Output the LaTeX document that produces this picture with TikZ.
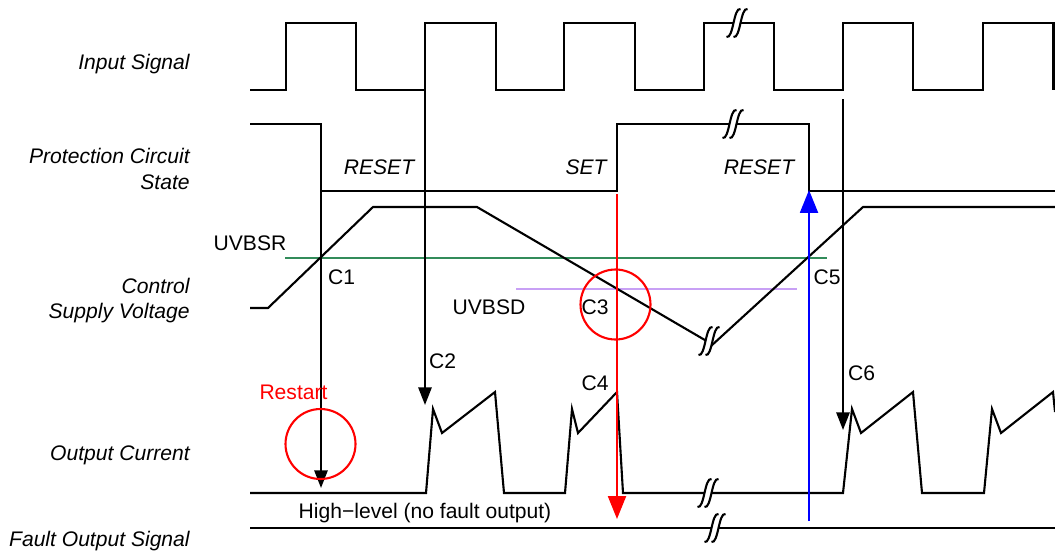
\documentclass[tikz,border=0pt]{standalone}
\usepackage{fontspec}
\setmainfont{Liberation Sans}
\usetikzlibrary{arrows.meta}
\definecolor{uvgreen}{RGB}{50,140,90}
\definecolor{uvpurple}{RGB}{200,160,245}
\begin{document}
\begin{tikzpicture}[x=0.02cm,y=-0.02cm,
  sig/.style={line width=1.2pt, line join=miter},
  base/.style={font=\fontsize{12}{14.7}\selectfont, inner sep=0},
  lbl/.style={base, font=\fontsize{12}{14.7}\selectfont\itshape, anchor=east, align=right},
  ilbl/.style={base, font=\fontsize{12}{14.7}\selectfont\itshape},
  blackarrow/.style={line width=1.2pt, -{Triangle[width=7.5pt,length=10pt]}},
  bigarrow/.style={line width=1.2pt, -{Triangle[width=10.2pt,length=13pt]}},
  brk/.pic={
    \fill[white] (10.5,-14) .. controls (3.5,-16) and (3.5,16) .. (-3.5,14)
       -- (-10.5,14) .. controls (-3.5,16) and (-3.5,-16) .. (3.5,-14) -- cycle;
    \draw[line width=1.2pt] (10.5,-14) .. controls (3.5,-16) and (3.5,16) .. (-3.5,14);
    \draw[line width=1.2pt] (3.5,-14) .. controls (-3.5,-16) and (-3.5,16) .. (-10.5,14);
  }]
\useasboundingbox (0,0) rectangle (1055,552);

% left labels
\node[lbl] (lin) at (190,64) {Input Signal};
\node[lbl] (lpc) at (190,169) {Protection Circuit\\State};
\node[lbl] (lcs) at (190,300.5) {Control\\Supply Voltage};
\node[lbl] (loc) at (190,455) {Output Current};
\node[lbl] (lfo) at (190,541) {Fault Output Signal};

% threshold lines
\draw[uvgreen, line width=1.3pt] (285,258) -- (827,258);
\draw[uvpurple, line width=1.3pt] (516,289) -- (797,289);

% input signal
\draw[sig] (250,90) -- (286,90) -- (286,23) -- (356,23) -- (356,90) -- (425,90) -- (425,23)
  -- (496,23) -- (496,90) -- (564,90) -- (564,23) -- (635,23) -- (635,90) -- (704,90)
  -- (704,23) -- (774,23) -- (774,90) -- (843,90) -- (843,23) -- (913,23) -- (913,90)
  -- (983,90) -- (983,23) -- (1053.5,23) -- (1053.5,90);
\pic at (737,23) {brk};

% protection circuit state
\draw[sig] (250,124) -- (321,124) -- (321,191) -- (617,191) -- (617,124) -- (809,124)
  -- (809,191) -- (1055,191);
\pic at (733,124) {brk};

% control supply voltage
\draw[sig] (250,308) -- (268,308) -- (373,207) -- (477,207) -- (710,343);
\draw[sig] (711,346) -- (863,207) -- (1055,207);
\pic at (709,341) {brk};

% output current
\draw[sig] (250,493) -- (426,493) -- (433,409) -- (442,433) -- (495,392) -- (504,493)
  -- (565,493) -- (572,409) -- (578,433) -- (617,392) -- (623,493) -- (843,493)
  -- (852,409) -- (861,433) -- (913,392) -- (922,493) -- (984,493) -- (992,409)
  -- (1001,433) -- (1053,392) -- (1055,412);
\pic at (708,493) {brk};

% fault output
\draw[sig] (250,528) -- (1055,528);
\pic at (715,528) {brk};

% arrows
\coordinate (c1s) at (321,191);
\coordinate (c1e) at (321,488);
\coordinate (c2s) at (425,90);
\coordinate (c2e) at (425,405);
\coordinate (c6s) at (843,99);
\coordinate (c6e) at (843,430);
\coordinate (rs) at (617,194);
\coordinate (re) at (617,519);
\coordinate (bs) at (809,521);
\coordinate (be) at (809,190);
\draw[blackarrow] (c1s) -- (c1e);
\draw[blackarrow] (c2s) -- (c2e);
\draw[blackarrow] (c6s) -- (c6e);
\draw[bigarrow, red] (rs) -- (re);
\draw[bigarrow, blue] (bs) -- (be);

% circles
\node[draw=red, line width=1.2pt, circle, minimum size=1.4cm, inner sep=0] (circA) at (320.5,444) {};
\node[draw=red, line width=1.2pt, circle, minimum size=1.4cm, inner sep=0] (circB) at (615.5,304.5) {};

% state labels
\node[ilbl] (rst1) at (379,167) {RESET};
\node[ilbl] (set1) at (586,167) {SET};
\node[ilbl] (rst2) at (759,167) {RESET};

% other labels
\node[base] (uvbsr) at (250,243) {UVBSR};
\node[base] (uvbsd) at (489,307) {UVBSD};
\node[base] (tc1) at (341.5,277) {C1};
\node[base] (tc2) at (442.5,361) {C2};
\node[base] (tc3) at (595,307) {C3};
\node[base] (tc4) at (595,383) {C4};
\node[base] (tc5) at (827,277) {C5};
\node[base] (tc6) at (861.5,373) {C6};
\node[base, text=red] (rest) at (293.5,392) {Restart};
\node[base] (hl) at (425,513) {High−level (no fault output)};
\end{tikzpicture}
\end{document}
